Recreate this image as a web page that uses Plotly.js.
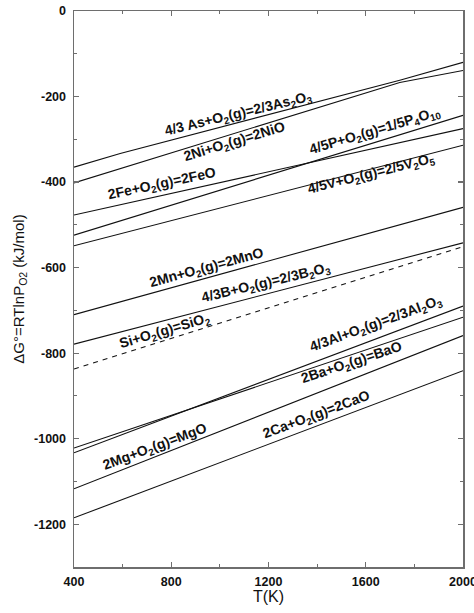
<!DOCTYPE html>
<html>
<head>
<meta charset="utf-8">
<script src="https://cdn.plot.ly/plotly-3.0.1.min.js"></script>
<style>html,body{margin:0;padding:0;background:#fff;}#chart{width:474px;height:613px;}</style>
</head>
<body>
<div id="chart"></div>
<script>
// ---- Data ----
const seriesNames = ["As", "Ni", "Fe", "P", "V", "Mn", "B", "Si", "Al", "Ba", "Mg", "Ca"];

const T_As = [400, 590, 1740, 2000];
const G_As = [-365, -333, -162, -120];
const T_Ni = [400, 1740, 2000];
const G_Ni = [-402, -167, -139];
const T_Fe = [400, 2000];
const G_Fe = [-477, -275];
const T_P = [400, 2000];
const G_P = [-524, -244];
const T_V = [400, 2000];
const G_V = [-549, -314];
const T_Mn = [400, 2000];
const G_Mn = [-710, -459];
const T_B = [400, 2000];
const G_B = [-779, -542];
const T_Si = [400, 2000];
const G_Si = [-837, -551];
const T_Al = [400, 2000];
const G_Al = [-1033, -690];
const T_Ba = [400, 2000];
const G_Ba = [-1022, -716];
const T_Mg = [400, 2000];
const G_Mg = [-1117, -759];
const T_Ca = [400, 2000];
const G_Ca = [-1185, -841];

const labelTexts = [
  "4/3 As+O<sub>2</sub>(g)=2/3As<sub>2</sub>O<sub>3</sub>",
  "2Ni+O<sub>2</sub>(g)=2NiO",
  "2Fe+O<sub>2</sub>(g)=2FeO",
  "4/5P+O<sub>2</sub>(g)=1/5P<sub>4</sub>O<sub>10</sub>",
  "4/5V+O<sub>2</sub>(g)=2/5V<sub>2</sub>O<sub>5</sub>",
  "2Mn+O<sub>2</sub>(g)=2MnO",
  "4/3B+O<sub>2</sub>(g)=2/3B<sub>2</sub>O<sub>3</sub>",
  "Si+O<sub>2</sub>(g)=SiO<sub>2</sub>",
  "4/3Al+O<sub>2</sub>(g)=2/3Al<sub>2</sub>O<sub>3</sub>",
  "2Ba+O<sub>2</sub>(g)=BaO",
  "2Mg+O<sub>2</sub>(g)=MgO",
  "2Ca+O<sub>2</sub>(g)=2CaO"
];

const xTickVals = [400, 800, 1200, 1600, 2000];
const xTickText = ["400", "800", "1200", "1600", "2000"];
const yTickVals = [-1200, -1000, -800, -600, -400, -200, 0];
const yTickText = ["-1200", "-1000", "-800", "-600", "-400", "-200", "0"];

// ---- Build traces ----
const seriesT = [T_As, T_Ni, T_Fe, T_P, T_V, T_Mn, T_B, T_Si, T_Al, T_Ba, T_Mg, T_Ca];
const seriesG = [G_As, G_Ni, G_Fe, G_P, G_V, G_Mn, G_B, G_Si, G_Al, G_Ba, G_Mg, G_Ca];

const traces = seriesNames.map((n, i) => ({
  type: 'scatter', mode: 'lines', name: n,
  x: seriesT[i], y: seriesG[i],
  line: {color: '#111', width: 1.1, dash: n === 'Si' ? '5px,5px' : 'solid'},
  hoverinfo: 'skip'
}));

// label placement (position in data coords, rotation)
const labelPos = [
  {x: 1077, y: -241, a: -13.5},
  {x: 1061, y: -307, a: -17},
  {x: 762,  y: -404, a: -12},
  {x: 1638, y: -280, a: -16.5},
  {x: 1622, y: -381, a: -14},
  {x: 947,  y: -602, a: -15},
  {x: 1191, y: -635, a: -13.5},
  {x: 776,  y: -749, a: -16.5},
  {x: 1642, y: -731, a: -20},
  {x: 1540, y: -822, a: -18.5},
  {x: 733,  y: -1019, a: -20.5},
  {x: 1397, y: -944, a: -20.5}
];

const annotations = labelTexts.map((t, i) => ({
  x: labelPos[i].x, y: labelPos[i].y, xref: 'x', yref: 'y',
  text: t, showarrow: false, textangle: labelPos[i].a,
  font: {family: 'Liberation Sans, Arial, sans-serif', size: 14, color: '#111', weight: 'bold'}
}));

const axisCommon = {
  showline: true, linecolor: '#6e6e6e', linewidth: 1.5, mirror: 'ticks',
  ticks: 'inside', ticklen: 5, tickwidth: 1.2, tickcolor: '#6e6e6e',
  showgrid: false, zeroline: false,
  tickfont: {family: 'Liberation Sans, Arial, sans-serif', size: 12.5, color: '#111', weight: 'bold'},
  automargin: false, ticklabeloverflow: 'allow'
};

const layout = {
  width: 474, height: 613,
  margin: {l: 74, r: 10.5, t: 10.5, b: 46},
  paper_bgcolor: '#fff', plot_bgcolor: '#fff',
  showlegend: false,
  xaxis: Object.assign({}, axisCommon, {
    range: [400, 2000], tickmode: 'array', tickvals: xTickVals, ticktext: xTickText,
    minor: {tickmode: 'linear', tick0: 400, dtick: 200, ticks: 'inside', ticklen: 3, tickcolor: '#6e6e6e', tickwidth: 1},
    ticklabelstandoff: 2,
    title: {text: 'T(K)', standoff: 0, font: {family: 'Liberation Sans, Arial, sans-serif', size: 16, color: '#111'}}
  }),
  yaxis: Object.assign({}, axisCommon, {
    range: [-1300, 0], tickmode: 'array', tickvals: yTickVals, ticktext: yTickText,
    minor: {tickmode: 'linear', tick0: 0, dtick: 100, ticks: 'inside', ticklen: 3, tickcolor: '#6e6e6e', tickwidth: 1},
    ticklabelstandoff: 4,
    title: {text: 'ΔG°=RTlnP<sub>O2</sub> (kJ/mol)', standoff: 6, font: {family: 'Liberation Sans, Arial, sans-serif', size: 15, color: '#111'}}
  }),
  annotations: annotations
};

Plotly.newPlot('chart', traces, layout, {displayModeBar: false, staticPlot: true});
</script>
</body>
</html>
